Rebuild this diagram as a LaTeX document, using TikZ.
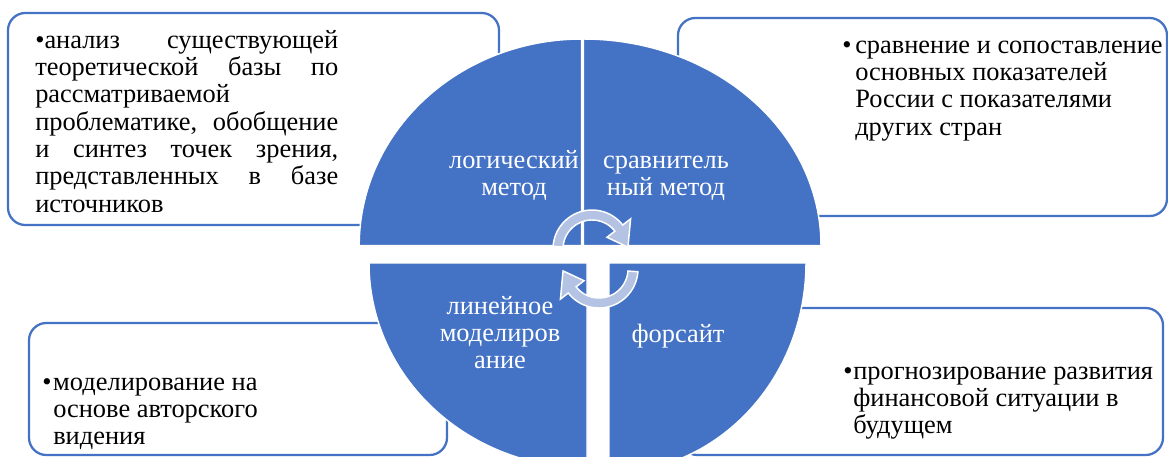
\documentclass[tikz,border=0pt]{standalone}
\usepackage{fontspec}
\setmainfont{Liberation Serif}
\definecolor{accent}{HTML}{4472C4}
\definecolor{arrowfill}{HTML}{B4C3E3}
\newcommand{\fs}{\fontsize{19.8pt}{20.5pt}\selectfont}
\tikzset{
  box/.style={draw=accent, line width=1.7pt, fill=white, rounded corners=13pt, rectangle, inner sep=0pt},
  slice/.style={fill=accent, draw=white, line width=1.1pt},
  carrow/.style={fill=arrowfill, draw=white, line width=1.1pt, line join=miter},
  btext/.style={inner sep=0pt, anchor=base west, text=black},
  stext/.style={inner sep=0pt, anchor=base, text=white},
}
\begin{document}
\begin{tikzpicture}[x=0.75pt, y=-0.75pt]
\useasboundingbox (0,0) rectangle (1168,457);
% text boxes
\node[box, minimum width=368.25pt, minimum height=159pt] (b1) at (253.5,119) {};
\node[box, minimum width=366.75pt, minimum height=148.5pt] (b2) at (922.5,117) {};
\node[box, minimum width=313.5pt, minimum height=99pt] (b3) at (238,389) {};
\node[box, minimum width=362.25pt, minimum height=110.25pt] (b4) at (921.5,381.5) {};
% box texts
\node[btext] (t1) at (35,48) {\parbox[t]{227.25pt}{\fs
\hbox to 227.25pt{•анализ\hfill существующей}
\hbox to 227.25pt{теоретической\hfill базы\hfill по}
\hbox to 227.25pt{рассматриваемой\hfill}
\hbox to 227.25pt{проблематике,\hfill обобщение}
\hbox to 227.25pt{и\hfill синтез\hfill точек\hfill зрения,}
\hbox to 227.25pt{представленных\hfill в\hfill базе}
\hbox to 227.25pt{источников\hfill}}};
\node[btext] (t2) at (842,53) {\fs\makebox[9.75pt][l]{•}\parbox[t]{240pt}{\fs\raggedright
сравнение и сопоставление\\основных показателей\\России с показателями\\других стран}};
\node[btext] (t3) at (42,390) {\fs\makebox[8.25pt][l]{•}\parbox[t]{240pt}{\fs\raggedright
моделирование на\\основе авторского\\видения}};
\node[btext] (t4) at (843,379) {\fs\makebox[7.5pt][l]{•}\parbox[t]{240pt}{\fs\raggedright
прогнозирование развития\\финансовой ситуации в\\будущем}};
% pie slices
\path[slice] (581.7,245.5) -- plot[domain=180:270, samples=80] ({581.7+222.5*cos(\x)},{245.5+206.5*sin(\x)}) -- cycle;
\path[slice] (583.5,245.5) -- plot[domain=270:360, samples=80] ({583.5+237.5*cos(\x)},{245.5+206.5*sin(\x)}) -- cycle;
\path[slice] (609,263) -- plot[domain=0:90, samples=80] ({609+197*cos(\x)},{263+210*sin(\x)}) -- cycle;
\path[slice] (587,263) -- plot[domain=90:180, samples=80] ({587+218*cos(\x)},{263+205*sin(\x)}) -- cycle;
% slice texts
\node[stext] (s1) at (514,168) {\parbox[t]{150pt}{\fs\centering логический\\метод}};
\node[stext] (s2) at (666,168) {\parbox[t]{150pt}{\fs\centering сравнитель\\ный метод}};
\node[stext] (s3) at (500,314) {\parbox[t]{150pt}{\fs\centering линейное\\моделиров\\ание}};
\node[stext] (s4) at (678,342) {\parbox[t]{150pt}{\fs\centering форсайт}};
% circular arrows
\path[carrow] plot[domain=184:322, samples=40] ({592+39*cos(\x)},{249+39*sin(\x)})
  -- ({592+49*cos(322)},{249+49*sin(322)})
  -- ({592+36*cos(357)},{249+36*sin(357)})
  -- ({592+19*cos(322)},{249+19*sin(322)})
  -- plot[domain=322:184, samples=40] ({592+29*cos(\x)},{249+29*sin(\x)})
  -- cycle;
\path[carrow] plot[domain=4:142, samples=40] ({599+39*cos(\x)},{269+39*sin(\x)})
  -- ({599+49*cos(142)},{269+49*sin(142)})
  -- ({599+36*cos(177)},{269+36*sin(177)})
  -- ({599+19*cos(142)},{269+19*sin(142)})
  -- plot[domain=142:4, samples=40] ({599+29*cos(\x)},{269+29*sin(\x)})
  -- cycle;
\end{tikzpicture}
\end{document}
